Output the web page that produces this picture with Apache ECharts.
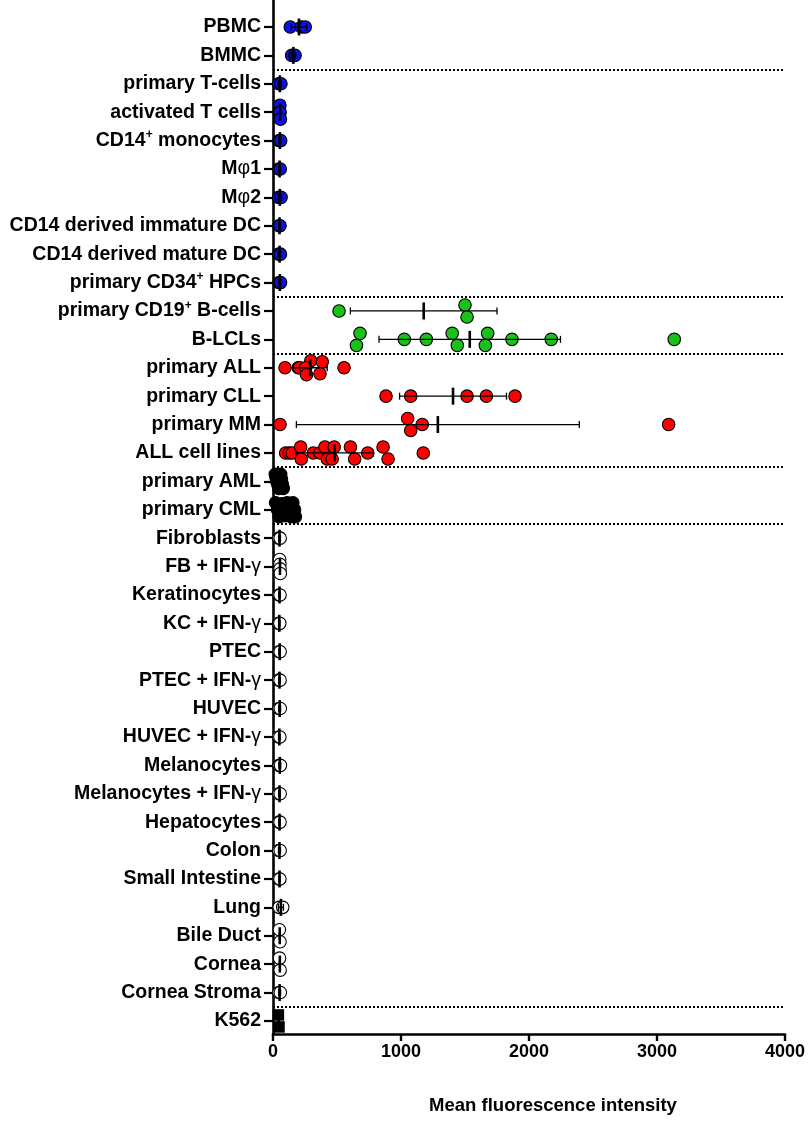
<!DOCTYPE html>
<html>
<head>
<meta charset="utf-8">
<style>
  html, body { margin: 0; padding: 0; background: #ffffff; }
  #chart { width: 808px; height: 1121px; }
</style>
<script src="https://cdn.jsdelivr.net/npm/echarts@6/dist/echarts.min.js"></script>
</head>
<body>
<div id="chart"></div>
<script>
// ---- Data: mean fluorescence intensity per sample, one block per group ----
const bloodLabels = ['PBMC', 'BMMC'];
const bloodValues = [[135, 222, 252], [146, 172]];

const immuneLabels = ['primary T-cells', 'activated T cells', 'CD14⁺ monocytes', 'Mφ1', 'Mφ2',
  'CD14 derived immature DC', 'CD14 derived mature DC', 'primary CD34⁺ HPCs'];
const immuneValues = [[45, 62], [54, 56, 58], [48, 60], [46, 57], [44, 63], [47, 55], [45, 58], [48, 59]];

const bCellLabels = ['primary CD19⁺ B-cells', 'B-LCLs'];
const bCellValues = [
  [516, 1500, 1516],
  [680, 652, 1026, 1198, 1400, 1440, 1677, 1659, 1867, 2174, 3135]
];

const lymphoidLabels = ['primary ALL', 'primary CLL', 'primary MM', 'ALL cell lines'];
const lymphoidValues = [
  [94, 198, 206, 295, 255, 262, 385, 367, 555],
  [883, 1076, 1516, 1667, 1891],
  [55, 1052, 1076, 1166, 3091],
  [99, 127, 150, 216, 221, 315, 367, 406, 424, 478, 462, 605, 638, 740, 860, 899, 1174]
];

const myeloidLabels = ['primary AML', 'primary CML'];
const myeloidValues = [
  [18, 24, 30, 38, 45, 60, 66, 72, 80],
  [20, 35, 48, 70, 92, 110, 128, 140, 155, 168, 175]
];

const tissueLabels = ['Fibroblasts', 'FB + IFN-γ', 'Keratinocytes', 'KC + IFN-γ', 'PTEC', 'PTEC + IFN-γ',
  'HUVEC', 'HUVEC + IFN-γ', 'Melanocytes', 'Melanocytes + IFN-γ', 'Hepatocytes', 'Colon',
  'Small Intestine', 'Lung', 'Bile Duct', 'Cornea', 'Cornea Stroma'];
const tissueValues = [[46, 56], [52, 54, 55, 57], [47, 55], [45, 53], [48, 56], [46, 55],
  [47, 57], [45, 54], [48, 58], [46, 56], [47, 55], [45, 56],
  [48, 54], [48, 76], [50, 55], [51, 56], [46, 57]];

const k562Labels = ['K562'];
const k562Values = [[42, 47]];

const xTicks = [0, 1000, 2000, 3000, 4000];

// ---- Marker look for each block ----
const FONT = "'Liberation Sans', Arial, Helvetica, sans-serif";
const markerStyles = {
  blue:   { symbol: 'circle', fill: '#0c12e4', border: '#000' },
  green:  { symbol: 'circle', fill: '#19c219', border: '#000' },
  red:    { symbol: 'circle', fill: '#ff0000', border: '#000' },
  black:  { symbol: 'circle', fill: '#000000', border: '#000' },
  open:   { symbol: 'circle', fill: '#ffffff', border: '#000' },
  square: { symbol: 'rect',   fill: '#000000', border: 'none' }
};

const blocks = [
  { labels: bloodLabels,    values: bloodValues,    look: 'blue' },
  { labels: immuneLabels,   values: immuneValues,   look: 'blue' },
  { labels: bCellLabels,    values: bCellValues,    look: 'green' },
  { labels: lymphoidLabels, values: lymphoidValues, look: 'red' },
  { labels: myeloidLabels,  values: myeloidValues,  look: 'black' },
  { labels: tissueLabels,   values: tissueValues,   look: 'open' },
  { labels: k562Labels,     values: k562Values,     look: 'square' }
];

// ---- Layout ----
const W = 808, H = 1121;
const GRID = { left: 273, right: 23, top: 0, bottom: 87 };
const X_MIN = xTicks[0], X_MAX = xTicks[xTicks.length - 1];
const Y_MIN = -0.95, Y_MAX = 35.46;
const plotH = H - GRID.top - GRID.bottom;
const pxPerRow = plotH / (Y_MAX - Y_MIN);

// scatter spreading: samples that fall in the same value bin are fanned out vertically
const BIN_WIDTH = 50;
const FAN_STEP_PX = 12;
const FAN_MAX_PX = 14;
const SYMBOL_PX = 12.5;
const SQUARE_PX = 11.5;

function fanOffsets(vals) {
  const bins = new Map();
  vals.forEach((v, k) => {
    const b = Math.floor(v / BIN_WIDTH);
    if (!bins.has(b)) bins.set(b, []);
    bins.get(b).push(k);
  });
  const off = vals.map(() => 0);
  bins.forEach(idx => {
    const n = idx.length;
    if (n < 2) return;
    const step = Math.min(FAN_STEP_PX, FAN_MAX_PX / (n - 1));
    idx.forEach((k, j) => { off[k] = (j - (n - 1) / 2) * step; });
  });
  return off;
}

function meanSd(vals) {
  const n = vals.length;
  const m = vals.reduce((a, b) => a + b, 0) / n;
  if (n < 2) return [m, 0];
  const ss = vals.reduce((a, v) => a + (v - m) * (v - m), 0);
  return [m, Math.sqrt(ss / (n - 1))];
}

// ---- Build rows, scatter points, summary bars, separators ----
const rowLabels = [];
const pointsByLook = {};
const summary = [];
const separators = [];
let row = 0;
blocks.forEach((blk, bi) => {
  blk.labels.forEach((lab, gi) => {
    const vals = blk.values[gi];
    const off = fanOffsets(vals);
    if (!pointsByLook[blk.look]) pointsByLook[blk.look] = [];
    vals.forEach((v, k) => pointsByLook[blk.look].push([v, row + off[k] / pxPerRow]));
    const [m, sd] = meanSd(vals);
    summary.push([row, m, sd]);
    rowLabels.push(lab);
    row++;
  });
  if (bi < blocks.length - 1) separators.push({ yAxis: row - 0.5 });
});
const rowIndex = rowLabels.map((_, i) => i);

// rich-text label: superscript plus and thin greek letters
function richLabel(text) {
  let out = '', buf = '';
  const flush = () => { if (buf) { out += '{t|' + buf + '}'; buf = ''; } };
  for (const ch of text) {
    if (ch === '⁺') { flush(); out += '{sup|+}'; }
    else if (ch === 'φ' || ch === 'γ') { flush(); out += '{g|' + ch + '}'; }
    else buf += ch;
  }
  flush();
  return out;
}

const scatterSeries = Object.keys(pointsByLook).map(look => {
  const st = markerStyles[look];
  return {
    type: 'scatter',
    name: look,
    data: pointsByLook[look],
    symbol: st.symbol,
    symbolSize: st.symbol === 'rect' ? SQUARE_PX : SYMBOL_PX,
    z: 2,
    silent: true,
    itemStyle: {
      color: st.fill,
      borderColor: st.border === 'none' ? st.fill : st.border,
      borderWidth: st.border === 'none' ? 0 : 1.1,
      opacity: 1
    }
  };
});

const summarySeries = {
  type: 'custom',
  data: summary,
  encode: { x: 1, y: 0 },
  z: 4,
  silent: true,
  renderItem: (params, api) => {
    const r = api.value(0), m = api.value(1), sd = api.value(2);
    const c = api.coord([m, r]);
    const kids = [];
    if (sd > 0) {
      const l = api.coord([m - sd, r])[0];
      const rr = api.coord([m + sd, r])[0];
      kids.push({ type: 'line', shape: { x1: l, y1: c[1], x2: rr, y2: c[1] }, style: { stroke: '#000', lineWidth: 1.3 } });
      kids.push({ type: 'line', shape: { x1: l, y1: c[1] - 3.5, x2: l, y2: c[1] + 3.5 }, style: { stroke: '#000', lineWidth: 1.3 } });
      kids.push({ type: 'line', shape: { x1: rr, y1: c[1] - 3.5, x2: rr, y2: c[1] + 3.5 }, style: { stroke: '#000', lineWidth: 1.3 } });
    }
    kids.push({ type: 'line', shape: { x1: c[0], y1: c[1] - 8.5, x2: c[0], y2: c[1] + 8.5 }, style: { stroke: '#000', lineWidth: 2.6 } });
    return { type: 'group', children: kids };
  },
  markLine: {
    silent: true,
    symbol: 'none',
    label: { show: false },
    lineStyle: { color: '#000', type: [2, 2], width: 2 },
    data: separators
  }
};

const chart = echarts.init(document.getElementById('chart'), null, { renderer: 'canvas', width: W, height: H });
chart.setOption({
  animation: false,
  backgroundColor: '#ffffff',
  grid: { left: GRID.left, right: GRID.right, top: GRID.top, bottom: GRID.bottom, containLabel: false },
  xAxis: {
    type: 'value',
    min: X_MIN, max: X_MAX, interval: xTicks[1] - xTicks[0],
    axisLine: { show: true, onZero: false, lineStyle: { color: '#000', width: 2.6 } },
    axisTick: { show: true, length: 7, lineStyle: { color: '#000', width: 2.4 } },
    axisLabel: { color: '#000', fontSize: 18, fontWeight: 'bold', fontFamily: FONT, margin: 9,
      formatter: v => String(v) },
    splitLine: { show: false },
    name: 'Mean fluorescence intensity',
    nameLocation: 'middle',
    nameGap: 62,
    nameTextStyle: { color: '#000', fontSize: 18.5, fontWeight: 'bold', fontFamily: FONT, padding: [0, 0, 0, 48] }
  },
  yAxis: {
    type: 'value',
    inverse: true,
    min: Y_MIN, max: Y_MAX,
    axisLine: { show: true, onZero: false, lineStyle: { color: '#000', width: 2.6 } },
    axisTick: { show: true, length: 9, lineStyle: { color: '#000', width: 2.2 }, customValues: rowIndex },
    axisLabel: {
      customValues: rowIndex,
      margin: 12,
      formatter: v => richLabel(rowLabels[Math.round(v)] || ''),
      rich: {
        t:   { color: '#000', fontSize: 19.5, fontWeight: 'bold', fontFamily: FONT, lineHeight: 23 },
        sup: { color: '#000', fontSize: 12, fontWeight: 'bold', fontFamily: FONT, lineHeight: 12, verticalAlign: 'top' },
        g:   { color: '#000', fontSize: 19.5, fontWeight: 'normal', fontFamily: FONT, lineHeight: 23 }
      }
    },
    splitLine: { show: false }
  },
  series: [...scatterSeries, summarySeries]
});
</script>
</body>
</html>
